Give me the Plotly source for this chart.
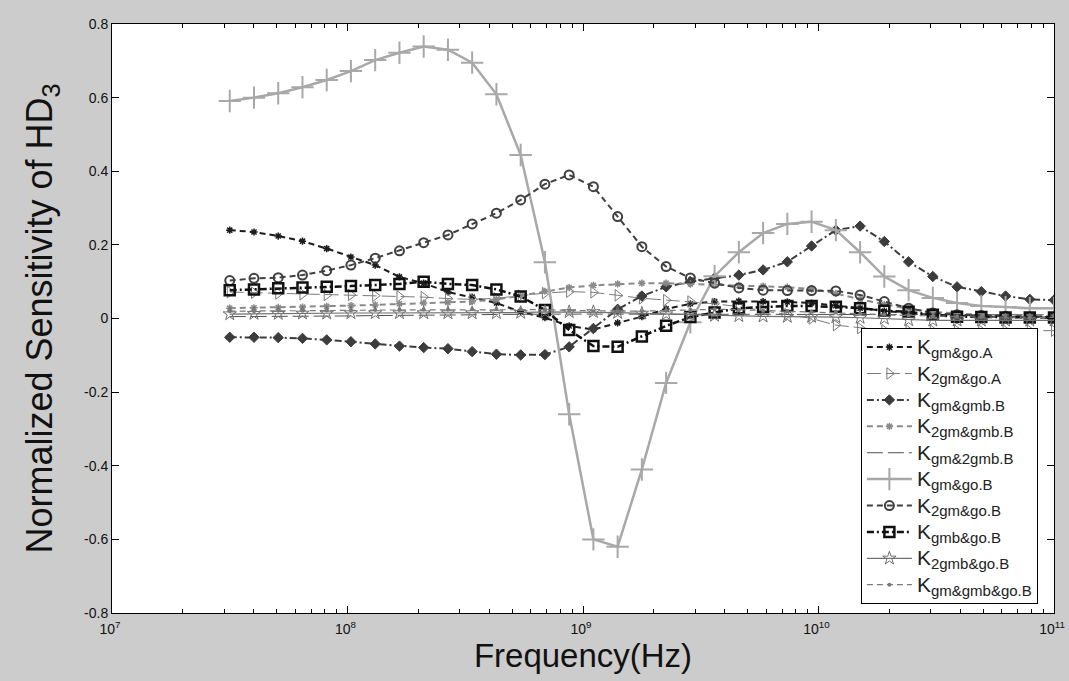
import plotly.graph_objects as go

# ---------------- data ----------------
freq_hz = [3.162e7, 4.008e7, 5.080e7, 6.439e7, 8.161e7, 1.034e8, 1.311e8, 1.662e8,
           2.106e8, 2.670e8, 3.383e8, 4.289e8, 5.437e8, 6.891e8, 8.735e8, 1.107e9,
           1.403e9, 1.778e9, 2.254e9, 2.857e9, 3.621e9, 4.590e9, 5.818e9, 7.374e9,
           9.346e9, 1.185e10, 1.502e10, 1.903e10, 2.413e10, 3.058e10, 3.876e10,
           4.913e10, 6.227e10, 7.893e10, 1.0e11]

k_gm_go_A = [0.240, 0.235, 0.224, 0.210, 0.190, 0.167, 0.145, 0.113, 0.096, 0.072, 0.058,
             0.042, 0.018, 0.002, -0.020, -0.030, -0.012, 0.005, 0.026, 0.040, 0.046,
             0.047, 0.046, 0.045, 0.042, 0.035, 0.028, 0.020, 0.014, 0.010, 0.007,
             0.005, 0.004, 0.003, 0.002]
k_2gm_go_A = [0.072, 0.070, 0.068, 0.066, 0.064, 0.064, 0.062, 0.060, 0.058, 0.054, 0.052,
              0.055, 0.062, 0.069, 0.073, 0.071, 0.063, 0.055, 0.050, 0.046, 0.040,
              0.032, 0.022, 0.012, 0.000, -0.018, -0.026, -0.032, -0.033, -0.033,
              -0.033, -0.033, -0.033, -0.033, -0.033]
k_gm_gmb_B = [-0.051, -0.051, -0.052, -0.054, -0.058, -0.063, -0.069, -0.075, -0.079,
              -0.082, -0.090, -0.097, -0.099, -0.098, -0.077, -0.027, 0.025, 0.061,
              0.086, 0.100, 0.110, 0.118, 0.132, 0.154, 0.197, 0.240, 0.251, 0.209,
              0.154, 0.114, 0.086, 0.073, 0.061, 0.052, 0.050]
k_2gm_gmb_B = [0.028, 0.029, 0.030, 0.031, 0.033, 0.035, 0.037, 0.040, 0.042, 0.044,
               0.046, 0.052, 0.062, 0.074, 0.084, 0.090, 0.094, 0.096, 0.096, 0.094,
               0.092, 0.090, 0.088, 0.085, 0.080, 0.068, 0.052, 0.038, 0.026, 0.018,
               0.013, 0.010, 0.008, 0.007, 0.006]
k_gm_2gmb_B = [0.005, 0.005, 0.006, 0.006, 0.007, 0.007, 0.008, 0.008, 0.009, 0.010,
               0.010, 0.011, 0.012, 0.012, 0.012, 0.012, 0.012, 0.012, 0.012, 0.012,
               0.012, 0.012, 0.012, 0.011, 0.011, 0.011, 0.010, 0.010, 0.010, 0.010,
               0.010, 0.010, 0.010, 0.010, 0.010]
k_gm_go_B = [0.591, 0.600, 0.612, 0.628, 0.648, 0.672, 0.702, 0.722, 0.739, 0.730, 0.695,
             0.609, 0.444, 0.153, -0.260, -0.600, -0.620, -0.410, -0.175, -0.010, 0.115,
             0.180, 0.232, 0.257, 0.263, 0.240, 0.180, 0.114, 0.077, 0.056, 0.042,
             0.034, 0.031, 0.028, 0.028]
k_2gm_go_B = [0.103, 0.109, 0.111, 0.118, 0.130, 0.145, 0.164, 0.184, 0.206, 0.227, 0.257,
              0.286, 0.322, 0.365, 0.390, 0.358, 0.277, 0.195, 0.141, 0.110, 0.096,
              0.083, 0.077, 0.076, 0.076, 0.075, 0.064, 0.046, 0.028, 0.015, 0.010,
              0.008, 0.006, 0.004, 0.003]
k_gmb_go_B = [0.077, 0.079, 0.082, 0.084, 0.086, 0.088, 0.091, 0.094, 0.100, 0.094, 0.091,
              0.079, 0.060, 0.023, -0.031, -0.075, -0.077, -0.049, -0.020, 0.004, 0.016,
              0.028, 0.031, 0.034, 0.034, 0.032, 0.028, 0.021, 0.018, 0.010, 0.005,
              0.004, 0.003, 0.003, 0.003]
k_2gmb_go_B = [0.012, 0.013, 0.013, 0.014, 0.014, 0.015, 0.015, 0.015, 0.015, 0.015, 0.015,
               0.015, 0.016, 0.018, 0.018, 0.018, 0.016, 0.014, 0.012, 0.010, 0.008,
               0.007, 0.006, 0.005, 0.005, 0.004, 0.002, 0.000, -0.004, -0.005, -0.005,
               -0.005, -0.005, -0.005, -0.005]
k_gm_gmb_go_B = [0.020, 0.020, 0.021, 0.021, 0.022, 0.022, 0.023, 0.023, 0.024, 0.024,
                 0.025, 0.025, 0.025, 0.024, 0.022, 0.020, 0.020, 0.020, 0.022, 0.024,
                 0.025, 0.024, 0.022, 0.020, 0.018, 0.016, 0.013, 0.010, 0.008, 0.006,
                 0.005, 0.004, 0.004, 0.003, 0.003]

series_subscripts = ["gm&amp;go.A", "2gm&amp;go.A", "gm&amp;gmb.B", "2gm&amp;gmb.B",
                     "gm&amp;2gmb.B", "gm&amp;go.B", "2gm&amp;go.B", "gmb&amp;go.B",
                     "2gmb&amp;go.B", "gm&amp;gmb&amp;go.B"]
series_values = [k_gm_go_A, k_2gm_go_A, k_gm_gmb_B, k_2gm_gmb_B, k_gm_2gmb_B,
                 k_gm_go_B, k_2gm_go_B, k_gmb_go_B, k_2gmb_go_B, k_gm_gmb_go_B]

x_tick_vals = [1e7, 1e8, 1e9, 1e10, 1e11]
x_tick_text = ["10<sup>7</sup>", "10<sup>8</sup>", "10<sup>9</sup>",
               "10<sup>10</sup>", "10<sup>11</sup>"]
y_tick_vals = [-0.8, -0.6, -0.4, -0.2, 0, 0.2, 0.4, 0.6, 0.8]
y_tick_text = ["-0.8", "-0.6", "-0.4", "-0.2", "0", "0.2", "0.4", "0.6", "0.8"]

# ---------------- styles ----------------
DASH = "6px,4px"
DASHDOT = "7px,3px,2px,3px"
styles = [
    dict(color="#1c1c1c", width=2, dash=DASH, symbol="asterisk-open", msize=6, mwidth=1.5),
    dict(color="#7a7a7a", width=1, dash="14px,5px", symbol="triangle-right-open", msize=10, mwidth=1),
    dict(color="#3c3c3c", width=2, dash=DASHDOT, symbol="diamond", msize=8, mwidth=1),
    dict(color="#8a8a8a", width=2, dash=DASH, symbol="asterisk-open", msize=6, mwidth=1.5),
    dict(color="#505050", width=1, dash="16px,5px", symbol=None, msize=0, mwidth=0),
    dict(color="#a8a8a8", width=2.5, dash="solid", symbol="cross-thin-open", msize=16, mwidth=2),
    dict(color="#404040", width=2, dash=DASH, symbol="circle-open", msize=9, mwidth=2),
    dict(color="#111111", width=2.5, dash=DASHDOT, symbol="square-open", msize=10, mwidth=2.5),
    dict(color="#707070", width=1.2, dash="solid", symbol="star-open", msize=10, mwidth=1),
    dict(color="#7a7a7a", width=1.2, dash=DASH, symbol="circle", msize=4, mwidth=0),
]

fig = go.Figure()
for sub, vals, st in zip(series_subscripts, series_values, styles):
    name = ("<span style='font-size:21px'>K</span><sub><span style='font-size:15px'>"
            + sub + "</span></sub>")
    mode = "lines+markers" if st["symbol"] else "lines"
    marker = dict(symbol=st["symbol"], size=st["msize"], color=st["color"],
                  line=dict(color=st["color"], width=st["mwidth"])) if st["symbol"] else None
    fig.add_trace(go.Scatter(
        x=freq_hz, y=vals, name=name, mode=mode,
        line=dict(color=st["color"], width=st["width"], dash=st["dash"]),
        marker=marker,
    ))

fig.update_layout(
    width=1069, height=681,
    paper_bgcolor="#cccccc", plot_bgcolor="white",
    margin=dict(l=112, r=15, t=24, b=68, autoexpand=False),
    font=dict(family="Arial, Liberation Sans, sans-serif", color="#111111"),
    showlegend=True,
    hovermode=False,
    legend=dict(
        x=0.795, y=0.484, xanchor="left", yanchor="top",
        bgcolor="white", bordercolor="black", borderwidth=1,
        font=dict(size=18, color="#222222"),
        itemwidth=45, tracegroupgap=0,
    ),
)
fig.update_xaxes(
    type="log", range=[7, 11], automargin=False,
    tickvals=x_tick_vals, ticktext=x_tick_text,
    ticks="inside", ticklen=7, tickcolor="black",
    ticklabelshift=-2, ticklabelstandoff=3,
    minor=dict(ticks="inside", ticklen=4, tickcolor="black", dtick="D1", showgrid=False),
    showline=True, linecolor="black", linewidth=1, mirror="ticks",
    showgrid=False, zeroline=False,
    tickfont=dict(size=14, color="#111111"),
    title=dict(text="Frequency(Hz)", font=dict(size=33, color="#111111"), standoff=2),
)
fig.update_yaxes(
    range=[-0.8, 0.8], automargin=False,
    tickvals=y_tick_vals, ticktext=y_tick_text,
    ticks="inside", ticklen=7, tickcolor="black",
    showline=True, linecolor="black", linewidth=1, mirror="ticks",
    showgrid=False, zeroline=False,
    tickfont=dict(size=14, color="#111111"),
    title=dict(text="Normalized Sensitivity of HD<sub>3</sub>",
               font=dict(size=36, color="#111111"), standoff=20),
)

fig.write_html("out.html", config={"displayModeBar": False, "staticPlot": True})
